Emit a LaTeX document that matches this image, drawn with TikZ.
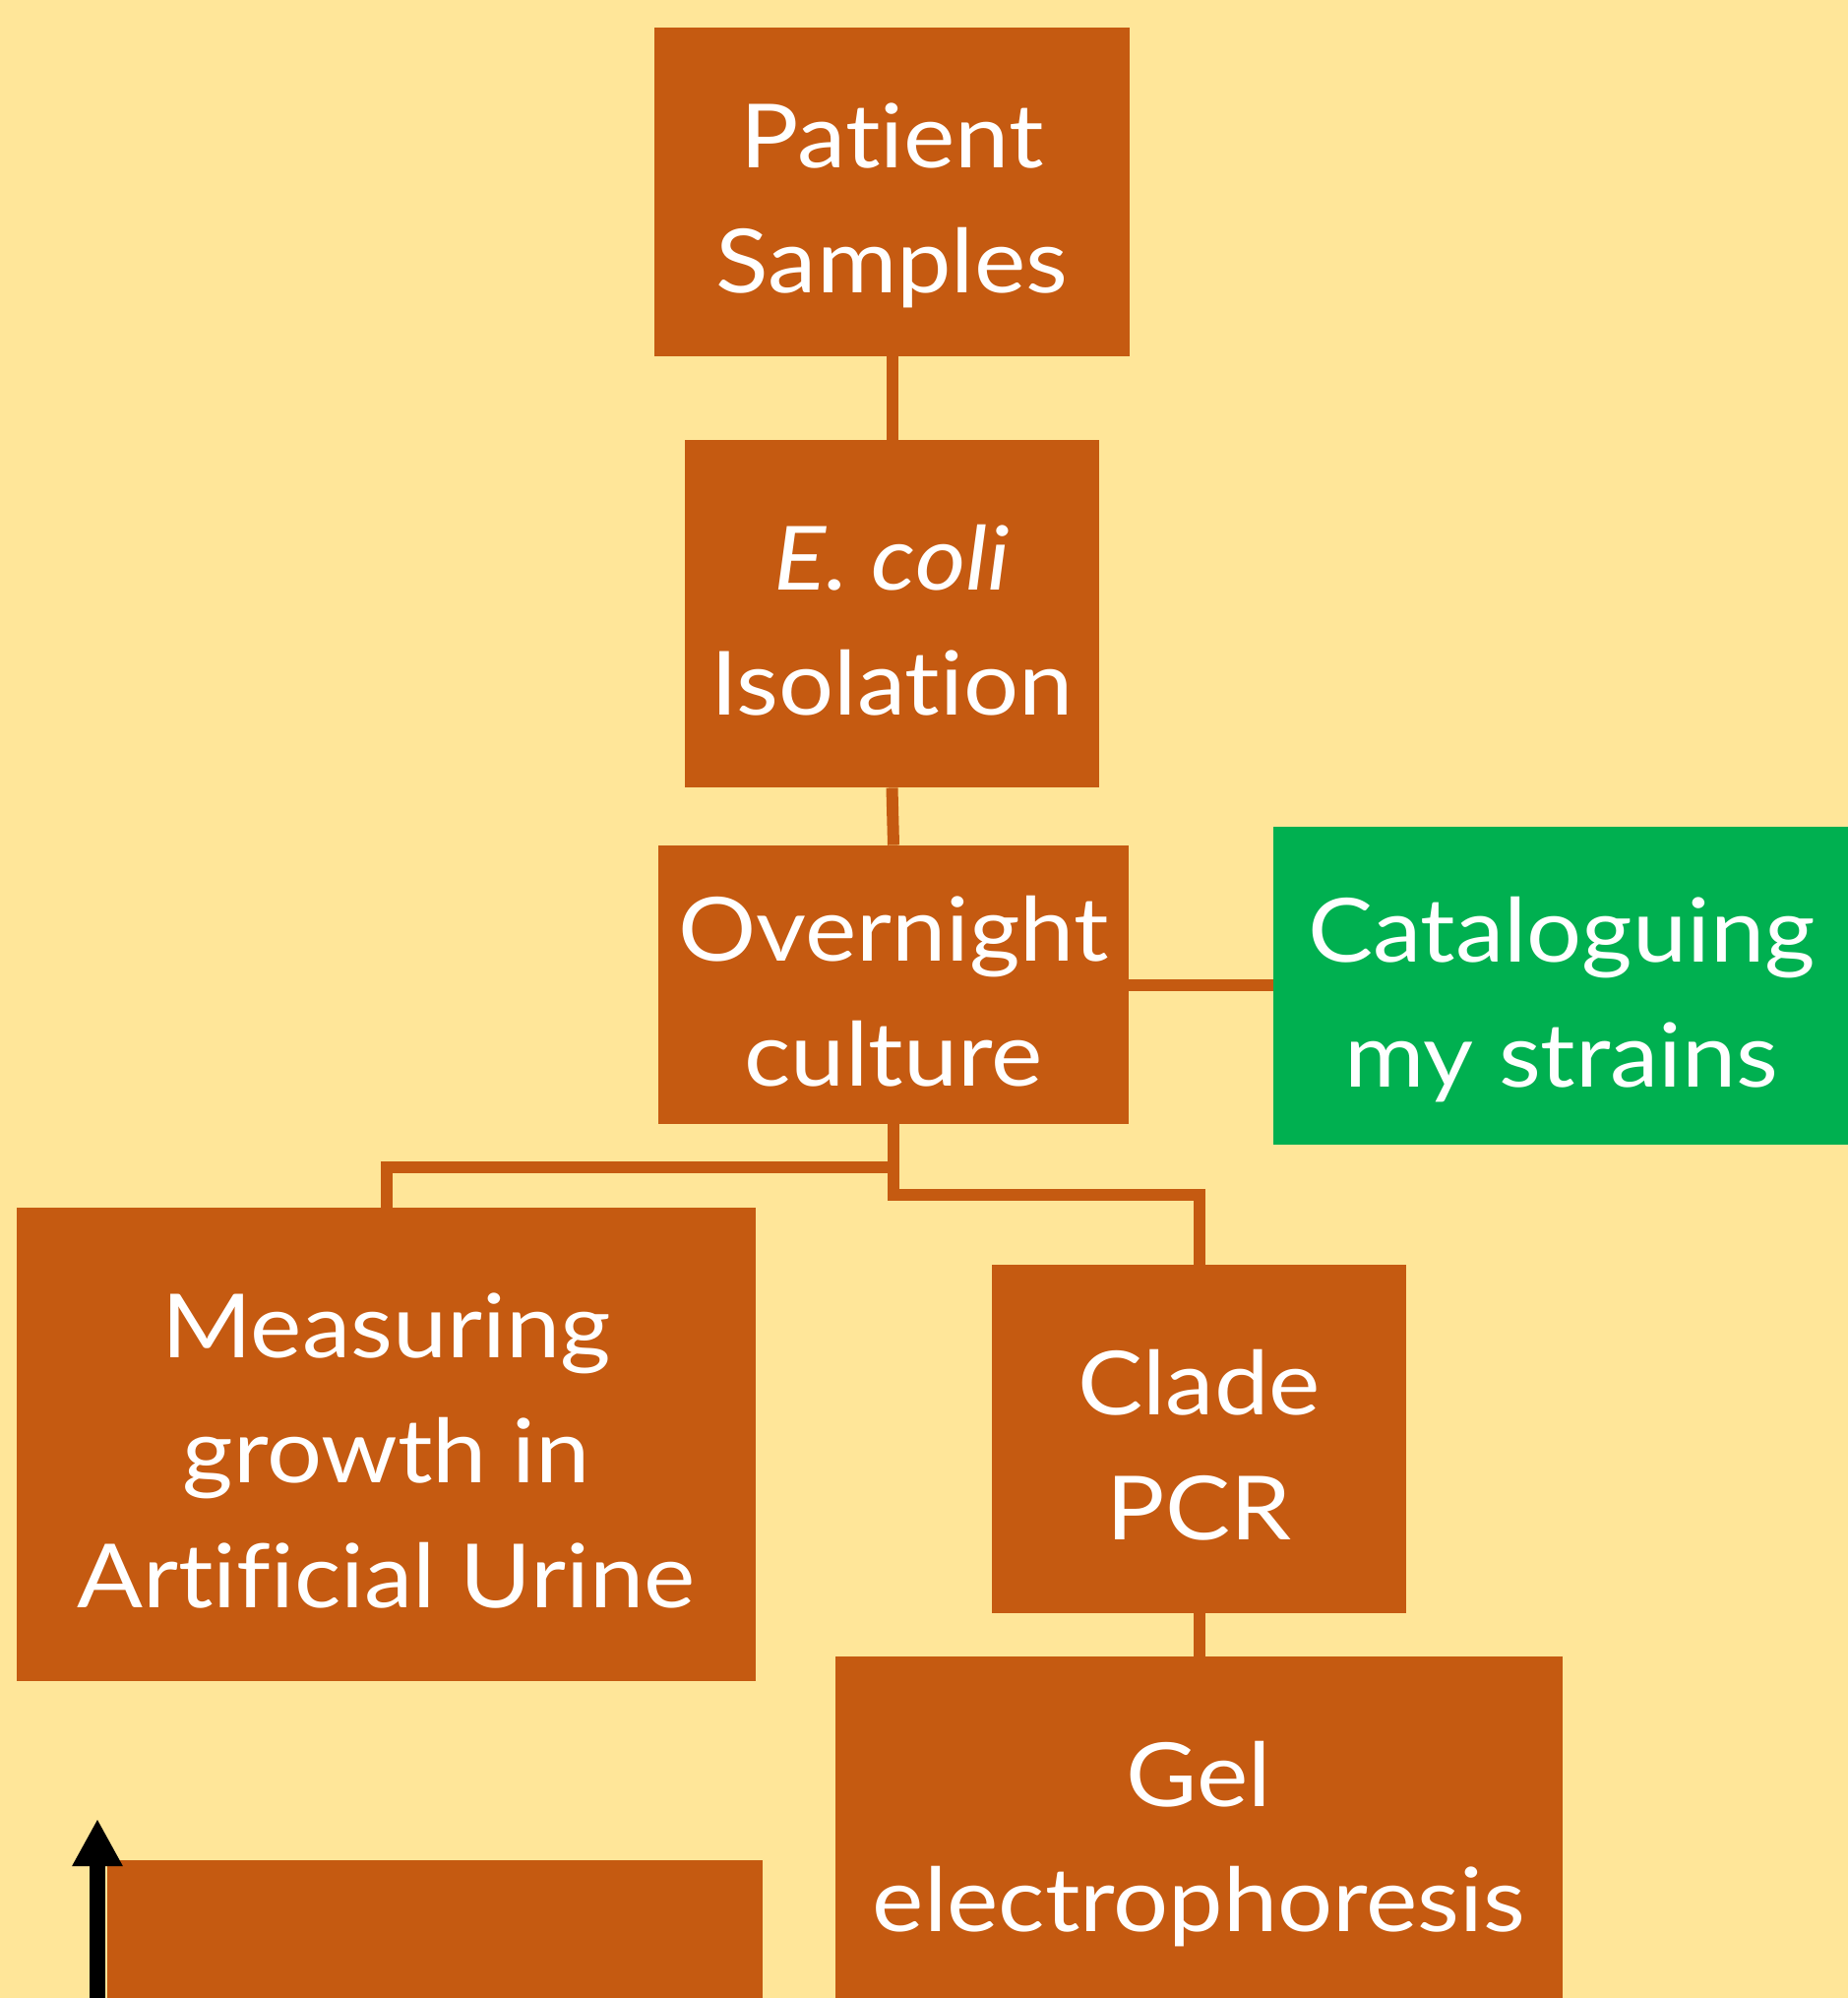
\documentclass[tikz,border=0pt]{standalone}
\usepackage{fontspec}
\setmainfont{Lato}[FakeStretch=1.1, Ligatures=NoCommon]
\usetikzlibrary{arrows.meta}
\definecolor{bg}{HTML}{FFE699}
\definecolor{brn}{HTML}{C55A11}
\definecolor{grn}{HTML}{00B050}
\newcommand\lnstrut{\rule[-12pt]{0pt}{63pt}}
\begin{document}
\begin{tikzpicture}[x=0.5pt,y=-0.5pt,
  box/.style={fill=brn, draw=none, text=white, align=center, inner sep=0pt,
    font=\fontsize{45}{63.5}\selectfont},
  gbox/.style={box, fill=grn},
  conn/.style={draw=brn, line width=6pt},
  upar/.style={draw=black, line width=8pt, -{Triangle[length=24pt,width=24pt]}}]
\useasboundingbox (0,0) rectangle (1878,2030);
\fill[bg] (0,0) rectangle (1878,2030);
\clip (0,0) rectangle (1878,2030);
\node[box, minimum width=241.5pt, minimum height=167pt] (pat) at (906.5,195) {\lnstrut Patient\\\lnstrut Samples};
\node[box, minimum width=210.5pt, minimum height=176.5pt] (eco) at (906.5,623.5) {\lnstrut\textit{E. coli}\\\lnstrut Isolation};
\node[box, minimum width=239pt, minimum height=141.5pt] (ovn) at (908,1000.5) {\lnstrut Overnight\\\lnstrut culture};
\node[gbox, minimum width=293pt, minimum height=161.5pt] (cat) at (1587,1001.5) {\lnstrut Cataloguing\\\lnstrut my strains};
\node[box, minimum width=375.5pt, minimum height=240.5pt] (mea) at (392.5,1467.5) {\lnstrut Measuring\\\lnstrut growth in\\\lnstrut Artificial Urine};
\node[box, minimum width=210.5pt, minimum height=177pt] (cla) at (1218.5,1462) {\lnstrut Clade\\\lnstrut PCR};
\node[box, minimum width=369.5pt, minimum height=177pt] (gel) at (1218.5,1860) {\lnstrut Gel\\\lnstrut electrophoresis};
\node[box, minimum width=333pt, minimum height=100pt] (blk) at (442,1990) {};
\coordinate (j1) at (909,1186);
\coordinate (j2) at (909,1214);
\draw[conn] (pat.south) -- (eco.north);
\draw[conn] (eco.south) -- (ovn.north);
\draw[conn] (ovn.east) -- (ovn.east -| cat.west);
\draw[conn] (ovn.south) -- (ovn.south |- j1) -| (mea.north);
\draw[conn] (ovn.south) -- (ovn.south |- j2) -| (cla.north);
\draw[conn] (cla.south) -- (gel.north);
\coordinate (as) at (99,2080);
\coordinate (at) at (99,1848);
\draw[upar] (as) -- (at);
\end{tikzpicture}
\end{document}
